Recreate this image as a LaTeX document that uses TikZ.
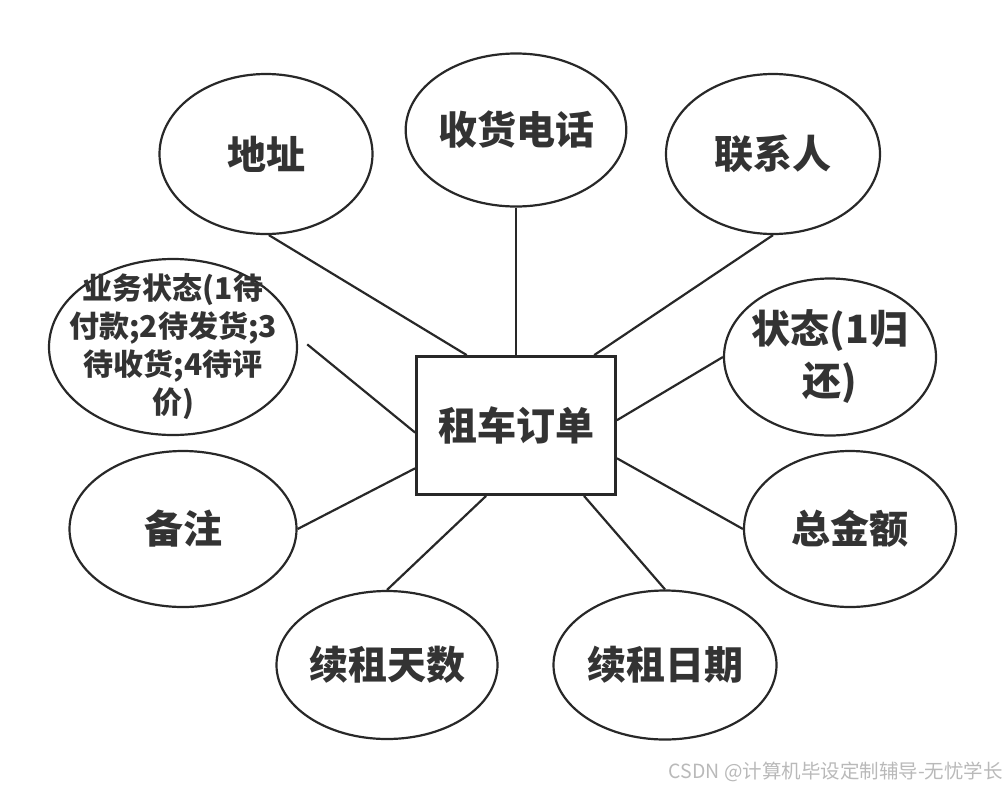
\documentclass[tikz,border=0pt]{standalone}
\usepackage{fontspec}
\newfontfamily\cjk{Noto Sans CJK SC}
\usepackage{xcolor}
\definecolor{erline}{RGB}{40, 40, 40}
\definecolor{ertext}{RGB}{51, 51, 51}
\definecolor{ermark}{RGB}{185, 185, 185}
\usetikzlibrary{shapes.geometric}

\begin{document}
\begin{tikzpicture}[x=1pt, y=-1pt,
    attr/.style={ellipse, draw=erline, line width=2.2pt, inner sep=0pt,
        text=ertext, align=center, font=\cjk\bfseries\fontsize{39}{52}\selectfont},
    entity/.style={rectangle, draw=erline, line width=2.8pt, inner sep=0pt,
        text=ertext, font=\cjk\bfseries\fontsize{39}{52}\selectfont},
    link/.style={draw=erline, line width=2.2pt}]

\useasboundingbox (0, 0) rectangle (1008, 790);

% === Entidad central ===
\node[entity, minimum width=199, minimum height=138] (order) at (516, 425.5) {租车订单};

% === Atributos (fila superior) ===
\node[attr, minimum width=213, minimum height=160] (addr) at (266, 154) {地址};
\node[attr, minimum width=220, minimum height=153] (phone) at (516, 130) {收货电话};
\node[attr, minimum width=214, minimum height=160] (contact) at (773, 154) {联系人};

% === Atributos (lados) ===
% texto de varias lineas: inner sep negativo para fijar el tamano
\node[attr, minimum width=248, minimum height=176, inner sep=-30pt,
    font=\cjk\bfseries\fontsize{30}{38}\selectfont] (biz) at (173, 347)
    {业务状态(1待\\付款;2待发货;3\\待收货;4待评\\价)};
\node[attr, minimum width=212, minimum height=157, inner sep=-30pt] (ret) at (830, 357)
    {状态(1归\\还)};
\node[attr, minimum width=227, minimum height=156] (note) at (183, 529) {备注};
\node[attr, minimum width=212, minimum height=156] (total) at (850, 529) {总金额};

% === Atributos (fila inferior) ===
\node[attr, minimum width=221, minimum height=148] (days) at (387, 665) {续租天数};
\node[attr, minimum width=223, minimum height=149] (date) at (665, 665) {续租日期};

% === Conexiones ===
\draw[link] (addr.-88) -- (order.125);
\draw[link] (phone.south) -- (order.north);
\draw[link] (contact.south) -- (order.42);
\draw[link, shorten <=13pt] (biz.5) -- (order.184);
\draw[link] (ret.west) -- (order.3);
\draw[link] (note.east) -- (order.203);
\draw[link] (total.west) -- (order.-18);
\draw[link] (days.north) -- (order.247);
\draw[link] (date.north) -- (order.314);

% Marca de agua
\node[anchor=east, inner sep=0pt, text=ermark, font=\cjk\fontsize{19.5}{22}\selectfont]
    (mark) at (1003, 772) {CSDN @计算机毕设定制辅导-无忧学长};

\end{tikzpicture}
\end{document}
